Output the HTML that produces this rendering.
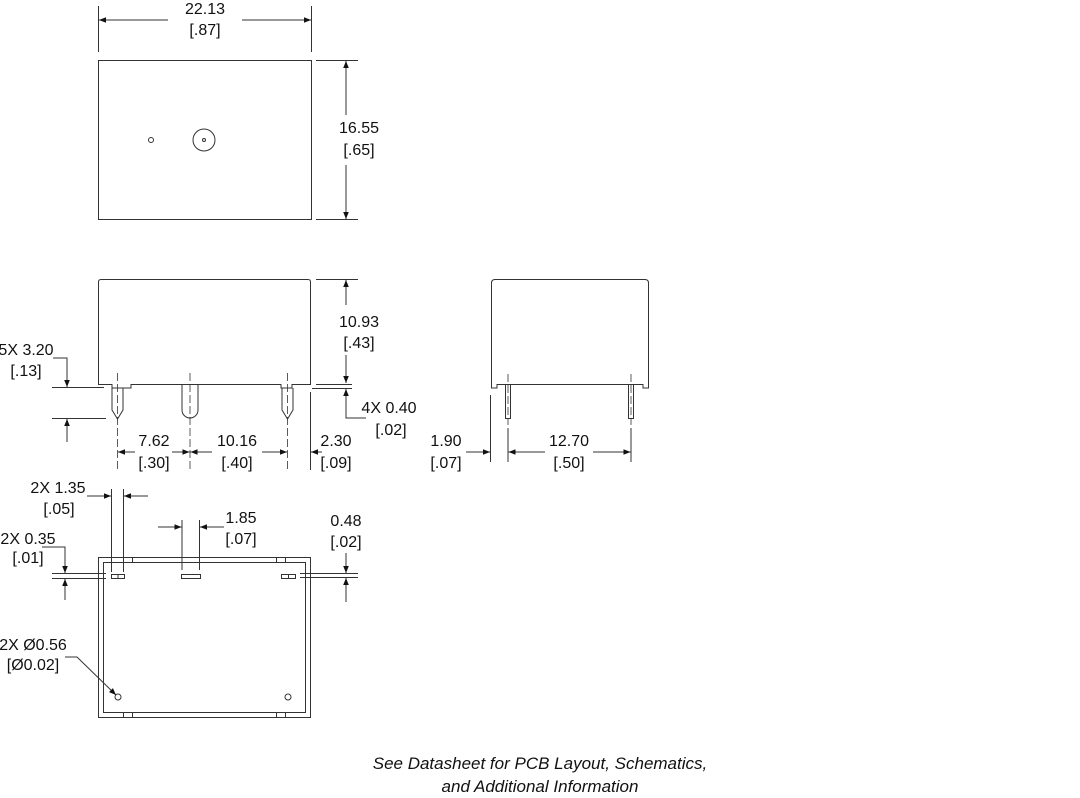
<!DOCTYPE html>
<html><head><meta charset="utf-8"><style>
html,body{margin:0;padding:0;background:#fff;width:1080px;height:798px;overflow:hidden}
svg text{font-family:"Liberation Sans",sans-serif;font-size:16px;fill:#111;text-anchor:middle}
</style></head><body>
<svg width="1080" height="798" viewBox="0 0 1080 798" xmlns="http://www.w3.org/2000/svg">
<defs>
<marker id="a" viewBox="0 0 10 10" refX="10" refY="5" markerWidth="14" markerHeight="7" markerUnits="userSpaceOnUse" orient="auto"><path d="M0,1 L10,5 L0,9 z" fill="#111"/></marker>
</defs>
<g fill="none" stroke="#333" stroke-width="1">
<rect x="98.5" y="60.5" width="213" height="159"/>
<circle cx="151" cy="140" r="2.5"/>
<circle cx="204" cy="140" r="11"/>
<circle cx="204" cy="140" r="1.5"/>
<line x1="98.5" y1="6" x2="98.5" y2="52"/><line x1="311.5" y1="6" x2="311.5" y2="52"/>
<line x1="168" y1="20" x2="99" y2="20" marker-end="url(#a)"/><line x1="242" y1="20" x2="311" y2="20" marker-end="url(#a)"/>
<line x1="316" y1="60.5" x2="358" y2="60.5"/><line x1="316" y1="219.5" x2="358" y2="219.5"/>
<line x1="346" y1="115" x2="346" y2="61" marker-end="url(#a)"/><line x1="346" y1="165" x2="346" y2="219" marker-end="url(#a)"/>
<path d="M98.5,384.5 V282 Q98.5,279.5 101,279.5 H308 Q310.5,279.5 310.5,282 V384.5 H292 V388 H281 V384.5 H131 V388 H112 V384.5 Z"/>
<path d="M112,388 V410 L117.5,419 L123,410 V388"/>
<path d="M182,384.5 V410 A8,8 0 0 0 198,410 V384.5"/>
<path d="M282,388 V410 L287.5,419 L293,410 V388"/>
<g stroke-dasharray="8,3" stroke-width="0.8"><line x1="117.5" y1="373" x2="117.5" y2="470"/><line x1="190" y1="373" x2="190" y2="470"/><line x1="287.5" y1="373" x2="287.5" y2="470"/></g>
<line x1="310.5" y1="392" x2="310.5" y2="470"/>
<line x1="316" y1="279.5" x2="358" y2="279.5"/>
<line x1="346" y1="305" x2="346" y2="280" marker-end="url(#a)"/><line x1="346" y1="355" x2="346" y2="383" marker-end="url(#a)"/>
<line x1="316" y1="384.5" x2="352" y2="384.5"/><line x1="312" y1="388.5" x2="352" y2="388.5"/>
<line x1="346" y1="410" x2="346" y2="389" marker-end="url(#a)"/><polyline points="346,410 346,418 366,418"/>
<line x1="52" y1="387.5" x2="104" y2="387.5"/><line x1="52" y1="418.5" x2="106" y2="418.5"/>
<polyline points="53,358 67,358 67,387" marker-end="url(#a)"/><line x1="67" y1="442" x2="67" y2="419" marker-end="url(#a)"/>
<line x1="135" y1="452" x2="118" y2="452" marker-end="url(#a)"/><line x1="172" y1="452" x2="189.5" y2="452" marker-end="url(#a)"/>
<line x1="212" y1="452" x2="190.5" y2="452" marker-end="url(#a)"/><line x1="262" y1="452" x2="287" y2="452" marker-end="url(#a)"/>
<line x1="322" y1="452" x2="311" y2="452" marker-end="url(#a)"/>
<path d="M491.5,388 V283 Q491.5,279.5 495,279.5 H645 Q648.5,279.5 648.5,283 V388 H643 V384.5 H497 V388 Z"/>
<rect x="505.5" y="384.5" width="5" height="34"/><rect x="628.5" y="384.5" width="5" height="34"/>
<g stroke-dasharray="8,3" stroke-width="0.8"><line x1="508" y1="374" x2="508" y2="425"/><line x1="631" y1="374" x2="631" y2="425"/></g>
<line x1="490.5" y1="395" x2="490.5" y2="462"/><line x1="508" y1="428" x2="508" y2="462"/><line x1="631" y1="428" x2="631" y2="462"/>
<line x1="466" y1="452" x2="490" y2="452" marker-end="url(#a)"/>
<line x1="545" y1="452" x2="508.5" y2="452" marker-end="url(#a)"/><line x1="593" y1="452" x2="630.5" y2="452" marker-end="url(#a)"/>
<rect x="98.5" y="557.5" width="212" height="160"/>
<rect x="103.5" y="562.5" width="202" height="150"/>
<line x1="123.5" y1="557.5" x2="123.5" y2="562.5"/><line x1="132.5" y1="557.5" x2="132.5" y2="562.5"/>
<line x1="276.5" y1="557.5" x2="276.5" y2="562.5"/><line x1="285.5" y1="557.5" x2="285.5" y2="562.5"/>
<line x1="123.5" y1="712.5" x2="123.5" y2="717.5"/><line x1="132.5" y1="712.5" x2="132.5" y2="717.5"/>
<line x1="276.5" y1="712.5" x2="276.5" y2="717.5"/><line x1="285.5" y1="712.5" x2="285.5" y2="717.5"/>
<rect x="111.5" y="574.5" width="13" height="4"/><line x1="118" y1="574.5" x2="118" y2="578.5"/>
<rect x="181.5" y="574.5" width="19" height="4"/>
<rect x="281.5" y="574.5" width="14" height="4"/><line x1="288.5" y1="574.5" x2="288.5" y2="578.5"/>
<circle cx="118" cy="697" r="3"/><circle cx="288" cy="697" r="3"/>
<line x1="111.5" y1="489" x2="111.5" y2="572"/><line x1="123.5" y1="489" x2="123.5" y2="572"/>
<line x1="87" y1="496" x2="111" y2="496" marker-end="url(#a)"/><line x1="148" y1="496" x2="124" y2="496" marker-end="url(#a)"/>
<line x1="182" y1="520" x2="182" y2="570"/><line x1="199.5" y1="520" x2="199.5" y2="570"/>
<line x1="158" y1="527" x2="181.5" y2="527" marker-end="url(#a)"/><line x1="224" y1="527" x2="200" y2="527" marker-end="url(#a)"/>
<line x1="52" y1="573.5" x2="106" y2="573.5"/><line x1="52" y1="578.5" x2="106" y2="578.5"/>
<polyline points="42,547 65,547 65,573" marker-end="url(#a)"/><line x1="65" y1="600" x2="65" y2="579" marker-end="url(#a)"/>
<line x1="300" y1="573.5" x2="358" y2="573.5"/><line x1="300" y1="577.5" x2="358" y2="577.5"/>
<line x1="346" y1="553" x2="346" y2="573" marker-end="url(#a)"/><line x1="346" y1="602" x2="346" y2="578" marker-end="url(#a)"/>
<polyline points="65,657 77,657 116,695" marker-end="url(#a)"/>
</g>
<text x="205" y="14">22.13</text><text x="205" y="35">[.87]</text>
<text x="359" y="133">16.55</text><text x="359" y="155">[.65]</text>
<text x="359" y="327">10.93</text><text x="359" y="348">[.43]</text>
<text x="26" y="355">5X 3.20</text><text x="26" y="376">[.13]</text>
<text x="389" y="413">4X 0.40</text><text x="391" y="435">[.02]</text>
<text x="154" y="446">7.62</text><text x="154" y="468">[.30]</text>
<text x="237" y="446">10.16</text><text x="237" y="468">[.40]</text>
<text x="336" y="446">2.30</text><text x="336" y="468">[.09]</text>
<text x="446" y="446">1.90</text><text x="446" y="468">[.07]</text>
<text x="569" y="446">12.70</text><text x="569" y="468">[.50]</text>
<text x="58" y="493">2X 1.35</text><text x="59" y="514">[.05]</text>
<text x="241" y="523">1.85</text><text x="241" y="544">[.07]</text>
<text x="346" y="526">0.48</text><text x="346" y="547">[.02]</text>
<text x="28" y="544">2X 0.35</text><text x="28" y="563">[.01]</text>
<text x="33" y="650">2X Ø0.56</text><text x="33" y="670">[Ø0.02]</text>
<text x="540" y="769" style="font-style:italic;font-size:17px">See Datasheet for PCB Layout, Schematics,</text>
<text x="540" y="792" style="font-style:italic;font-size:17px">and Additional Information</text>
</svg>
</body></html>
